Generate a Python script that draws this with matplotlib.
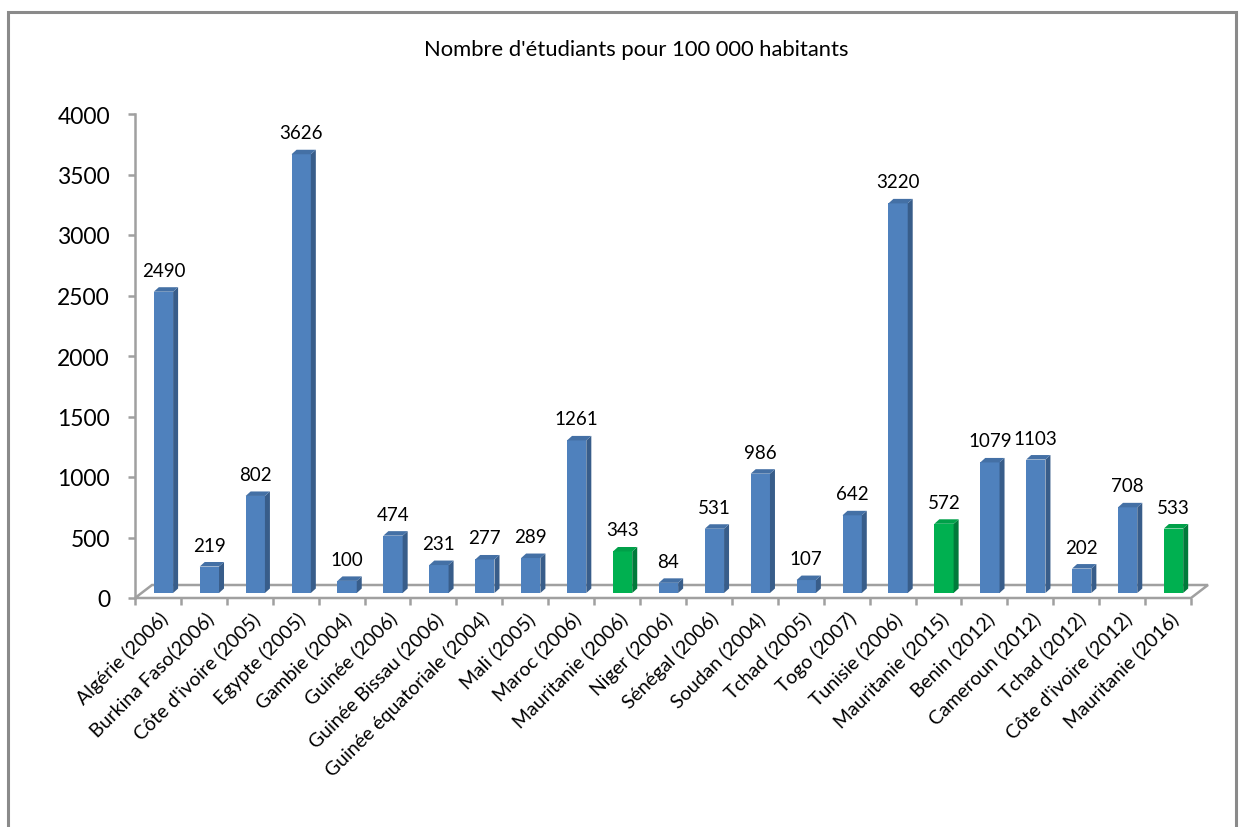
import numpy as np
import matplotlib.pyplot as plt
from matplotlib.patches import Polygon, Rectangle
from matplotlib.transforms import offset_copy

plt.rcParams['font.family'] = ['Lato', 'DejaVu Sans']

# Données : nombre d'étudiants pour 100 000 habitants
pays = ["Algérie (2006)", "Burkina Faso(2006)", "Côte d'ivoire (2005)", "Egypte (2005)",
        "Gambie (2004)", "Guinée (2006)", "Guinée Bissau (2006)", "Guinée équatoriale (2004)",
        "Mali (2005)", "Maroc (2006)", "Mauritanie (2006)", "Niger (2006)",
        "Sénégal (2006)", "Soudan (2004)", "Tchad (2005)", "Togo (2007)",
        "Tunisie (2006)", "Mauritanie (2015)", "Benin (2012)", "Cameroun (2012)",
        "Tchad (2012)", "Côte d'ivoire (2012)", "Mauritanie (2016)"]
etudiants = [2490, 219, 802, 3626, 100, 474, 231, 277, 289, 1261, 343, 84,
             531, 986, 107, 642, 3220, 572, 1079, 1103, 202, 708, 533]
y_ticks = list(range(0, 4001, 500))
titre = "Nombre d'étudiants pour 100 000 habitants"

W, H = 1245, 828
fig = plt.figure(figsize=(W / 100, H / 100), dpi=100)
ax_left, ax_bottom, ax_w, ax_h = 135, 229, 1056, 484
ax = fig.add_axes([ax_left / W, ax_bottom / H, ax_w / W, ax_h / H])

n = len(pays)
ax.set_xlim(-0.5, n - 0.5)
ax.set_ylim(0, 4000)

sx = ax_w / n        # px par catégorie
sy = ax_h / 4000     # px par unité

gris = '#a0a0a0'

# sol 3D (profondeur en px)
fdx, fdy = 17 / sx, 13 / sy
floor = Polygon([(-0.5, 0), (n - 0.5, 0), (n - 0.5 + fdx, fdy), (-0.5 + fdx, fdy)],
                closed=True, fill=False, edgecolor=gris, lw=1.8, zorder=1, clip_on=False)
ax.add_patch(floor)

# barres (posées au milieu de la profondeur)
bar_tr = offset_copy(ax.transData, fig=fig, x=5.5, y=5, units='dots')
bw = 0.42
bdx, bdy = 5 / sx, 4.5 / sy
for i, v in enumerate(etudiants):
    if pays[i].startswith("Mauritanie"):
        front, side, top = '#00b050', '#007a3a', '#00a049'
    else:
        front, side, top = '#4f81bd', '#385d8a', '#4470a5'
    ax.bar(i, v, width=bw, color=front, transform=bar_tr, zorder=3, clip_on=False)
    xl, xr = i - bw / 2, i + bw / 2
    ax.add_patch(Polygon([(xr, 0), (xr + bdx, bdy), (xr + bdx, v + bdy), (xr, v)],
                         closed=True, facecolor=side, edgecolor='none',
                         transform=bar_tr, zorder=3, clip_on=False))
    ax.add_patch(Polygon([(xl, v), (xr, v), (xr + bdx, v + bdy), (xl + bdx, v + bdy)],
                         closed=True, facecolor=top, edgecolor='none',
                         transform=bar_tr, zorder=3, clip_on=False))

# étiquettes de valeurs
lab_tr = offset_copy(ax.transData, fig=fig, x=5.5, y=5 + 16, units='dots')
for i, v in enumerate(etudiants):
    ax.text(i, v, str(v), transform=lab_tr, ha='center', va='baseline',
            fontsize=13.5, color='black', zorder=4)

# axes
for s in ['top', 'right', 'bottom']:
    ax.spines[s].set_visible(False)
ax.spines['left'].set_color(gris)
ax.spines['left'].set_linewidth(1.8)

ax.set_yticks(y_ticks)
ax.set_yticklabels([str(t) for t in y_ticks])
ax.tick_params(axis='y', length=5, width=1.8, color=gris, labelsize=16.5, pad=13)

ax.set_xticks(np.arange(-0.5, n, 1))
ax.set_xticklabels([])
ax.tick_params(axis='x', length=5, width=1.8, color=gris)

lab_x = offset_copy(ax.transData, fig=fig, x=7, y=-17, units='dots')
for i, p in enumerate(pays):
    ax.text(i, 0, p, transform=lab_x, rotation=45, rotation_mode='anchor',
            ha='right', va='center', fontsize=14, clip_on=False)

fig.text(636 / W, 1 - 50 / H, titre, ha='center', va='center', fontsize=15.8)

fig.patches.append(Rectangle((8 / W, -0.05), (1236 - 8) / W, 1.05 - 13 / H,
                             transform=fig.transFigure, fill=False,
                             edgecolor='#8a8a8a', lw=2.2))

fig.savefig('out.png', dpi=100)
